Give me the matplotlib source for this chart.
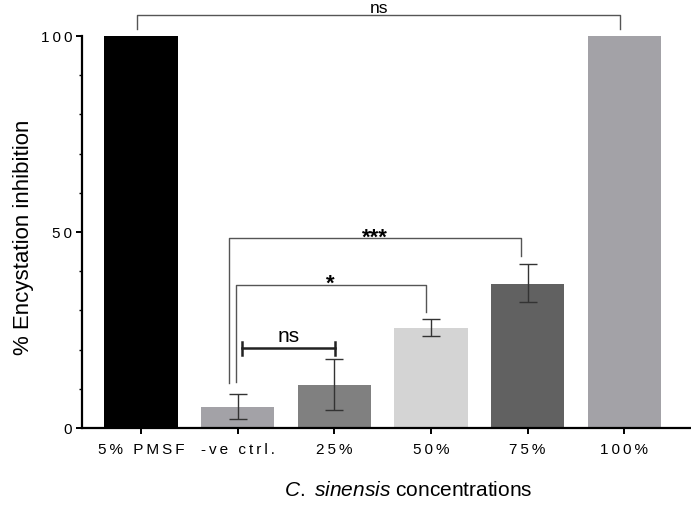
import matplotlib
matplotlib.use("Agg")
import matplotlib.pyplot as plt
import numpy as np

plt.rcParams['font.family'] = ['Liberation Sans', 'DejaVu Sans']
plt.rcParams['mathtext.fontset'] = 'custom'
plt.rcParams['mathtext.it'] = 'Liberation Sans:italic'
plt.rcParams['mathtext.rm'] = 'Liberation Sans'

categories = ['5% PMSF', '-ve ctrl.', '25%', '50%', '75%', '100%']
values = [100, 5.4, 11.1, 25.5, 36.8, 100]
err_low = [None, 2.3, 4.6, 23.4, 32.2, None]
err_high = [None, 8.7, 17.5, 27.7, 41.8, None]
colors = ['#000000', '#a3a2a7', '#808080', '#d4d4d4', '#616161', '#a3a2a7']

fig = plt.figure(figsize=(6.91, 5.09), dpi=100)
ax = fig.add_axes([0.1187, 0.1591, 0.8813, 0.7701])
x = np.arange(len(categories))
ax.bar(x, values, width=0.76, color=colors, zorder=2)

for i in range(len(categories)):
    if err_low[i] is not None:
        ax.errorbar(x[i], values[i],
                    yerr=[[values[i] - err_low[i]], [err_high[i] - values[i]]],
                    fmt='none', ecolor='#333333', elinewidth=1.0, capsize=6.5,
                    capthick=1.0, zorder=3)

ax.set_xlim(-0.61, 5.69)
ax.set_ylim(0, 100)
ax.set_yticks([0, 50, 100])
ax.set_yticks(np.arange(0, 101, 10), minor=True)
ax.spines['top'].set_visible(False)
ax.spines['right'].set_visible(False)
ax.spines['left'].set_linewidth(1.6)
ax.spines['bottom'].set_linewidth(1.6)
ax.tick_params(axis='y', which='major', length=4, width=1.4, pad=3, labelsize=11)
ax.tick_params(axis='y', which='minor', length=2.5, width=1.0)
ax.tick_params(axis='x', which='major', length=4, width=1.4, pad=7, labelsize=11)
ax.set_yticklabels(['\u2009'.join('0'), '\u2009'.join('50'), '\u2009'.join('100')])
ax.set_xticks(x)
ax.set_xticklabels(['\u2009'.join(c) for c in categories])

lc = '#555555'
def bracket(x1, x2, y, y1, y2, text, fs, weight='normal', ty=None):
    ax.plot([x1, x1, x2, x2], [y1, y, y, y2], color=lc, lw=1.0, clip_on=False, zorder=4)
    ax.text((x1 + x2) / 2, ty, text, ha='center', va='baseline',
            fontsize=fs, fontweight=weight, clip_on=False)

bracket(-0.04, 4.96, 105.4, 101.8, 101.8, 'ns', 12.5, ty=106.0)
bracket(1 - 0.09, 4 - 0.065, 48.5, 11.6, 43.9, '***', 16, 'bold', ty=47.0)
bracket(1 - 0.02, 3 - 0.055, 36.6, 11.8, 29.7, '*', 16, 'bold', ty=35.2)

# small ns bracket
ax.plot([1.05, 2.01], [20.3, 20.3], color='#222222', lw=1.8, zorder=4)
ax.plot([1.05, 1.05], [18.7, 21.9], color='#222222', lw=1.8, zorder=4)
ax.plot([2.01, 2.01], [18.7, 21.9], color='#222222', lw=1.8, zorder=4)
ax.text(1.53, 22.0, 'ns', ha='center', va='baseline', fontsize=15)

fig.text(24 / 691, 1 - 237 / 509, '% Encystation inhibition', rotation=90,
         ha='center', va='center', fontsize=16)
fig.text(408 / 691, 1 - 490 / 509, r'$\it{C.\ sinensis}$ concentrations',
         ha='center', va='center', fontsize=15)

fig.savefig('out.png', dpi=100)
